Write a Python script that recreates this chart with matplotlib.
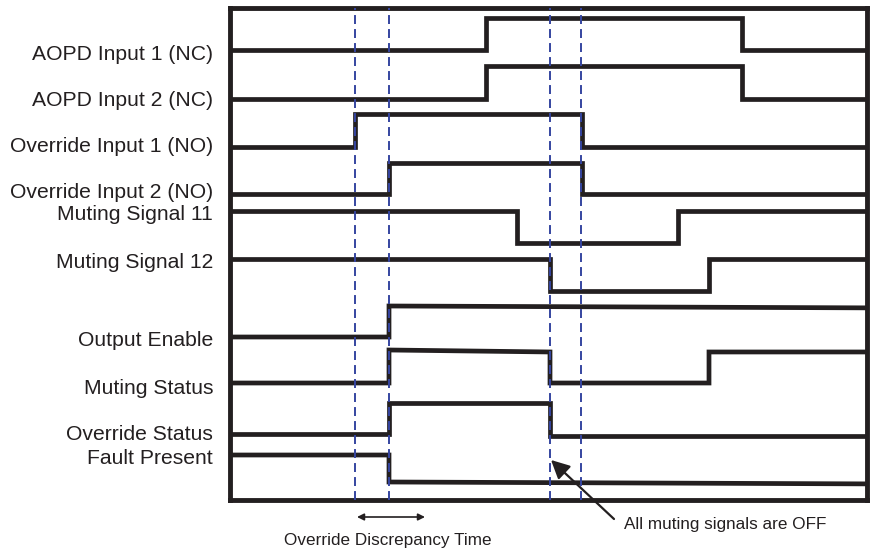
import numpy as np
import matplotlib.pyplot as plt

plt.rcParams['font.family'] = ['Liberation Sans', 'DejaVu Sans']

# signal names, top to bottom
signal_names = ["AOPD Input 1 (NC)", "AOPD Input 2 (NC)",
                "Override Input 1 (NO)", "Override Input 2 (NO)",
                "Muting Signal 11", "Muting Signal 12",
                "Output Enable", "Muting Status",
                "Override Status", "Fault Present"]

# breakpoints (time, state); a repeated time is a vertical edge
aopd1_t = [0, 256, 256, 512, 512, 637]
aopd1_s = [0, 0, 1, 1, 0, 0]
aopd2_t = [0, 256, 256, 512, 512, 637]
aopd2_s = [0, 0, 1, 1, 0, 0]
ovr1_t = [0, 125, 125, 352, 352, 637]
ovr1_s = [0, 0, 1, 1, 0, 0]
ovr2_t = [0, 159, 159, 352, 352, 637]
ovr2_s = [0, 0, 1, 1, 0, 0]
mut11_t = [0, 287, 287, 448, 448, 637]
mut11_s = [1, 1, 0, 0, 1, 1]
mut12_t = [0, 320, 320, 479, 479, 637]
mut12_s = [1, 1, 0, 0, 1, 1]
outen_t = [0, 159, 159, 637]
outen_s = [0, 0, 1, 0.94]
mutstat_t = [0, 159, 159, 320, 320, 479, 479, 637]
mutstat_s = [0, 0, 1, 0.94, 0, 0, 0.94, 0.94]
ovrstat_t = [0, 159, 159, 320, 320, 637]
ovrstat_s = [0, 0, 1, 1, -0.06, -0.06]
fault_t = [0, 159, 159, 637]
fault_s = [1, 1, 0, -0.07]

signal_t = [aopd1_t, aopd2_t, ovr1_t, ovr2_t, mut11_t, mut12_t,
            outen_t, mutstat_t, ovrstat_t, fault_t]
signal_s = [aopd1_s, aopd2_s, ovr1_s, ovr2_s, mut11_s, mut12_s,
            outen_s, mutstat_s, ovrstat_s, fault_s]

marker_times = [125, 159, 320, 351]
discrepancy_span = [127, 195]
all_off_time = 321

# layout (pixel rows from the top of the image)
row_low = [50, 99, 147, 194, 243, 291, 337, 383, 434, 482]
row_swing = [32, 33, 33, 31, 32, 32, 31, 33, 31, 27]
label_y = [54, 100, 146, 192, 215, 262, 340, 388, 434, 458]

ink = '#231f20'
blue = '#3545a0'

fig = plt.figure(figsize=(8.71, 5.51), dpi=100)
ax = fig.add_axes([230/871, 51/551, 637/871, 492/551])
ax.set_xlim(0, 637)
ax.set_ylim(500, 8)
ax.set_xticks([]), ax.set_yticks([])
for sp in ax.spines.values():
    sp.set_linewidth(3.5)
    sp.set_color(ink)

for i in range(len(signal_names)):
    t = np.array(signal_t[i])
    s = np.array(signal_s[i])
    y = row_low[i] - s * row_swing[i]
    ax.plot(t, y, color=ink, lw=3.4, solid_joinstyle='miter',
            solid_capstyle='butt', clip_on=False, zorder=3)
    ax.text(-17, label_y[i], signal_names[i], ha='right', va='center',
            fontsize=15.2, color=ink, clip_on=False)

for t in marker_times:
    ax.axvline(t, color=blue, lw=1.4, dashes=(4.6, 2.6), zorder=4)

ax.annotate('', xy=(discrepancy_span[0], 517), xytext=(discrepancy_span[1], 517),
            arrowprops=dict(arrowstyle='<|-|>', color=ink, lw=1.2,
                            mutation_scale=10, shrinkA=0, shrinkB=0),
            annotation_clip=False)
ax.text(158, 540, 'Override Discrepancy Time', ha='center', va='center',
        fontsize=12.3, color=ink, clip_on=False)

ax.annotate('', xy=(all_off_time, 460), xytext=(384, 519),
            arrowprops=dict(arrowstyle='-|>', color=ink, lw=1.6,
                            mutation_scale=28, shrinkA=0, shrinkB=0),
            annotation_clip=False)
ax.text(394, 524, 'All muting signals are OFF', ha='left', va='center',
        fontsize=12.3, color=ink, clip_on=False)

fig.savefig('out.png', dpi=100)
